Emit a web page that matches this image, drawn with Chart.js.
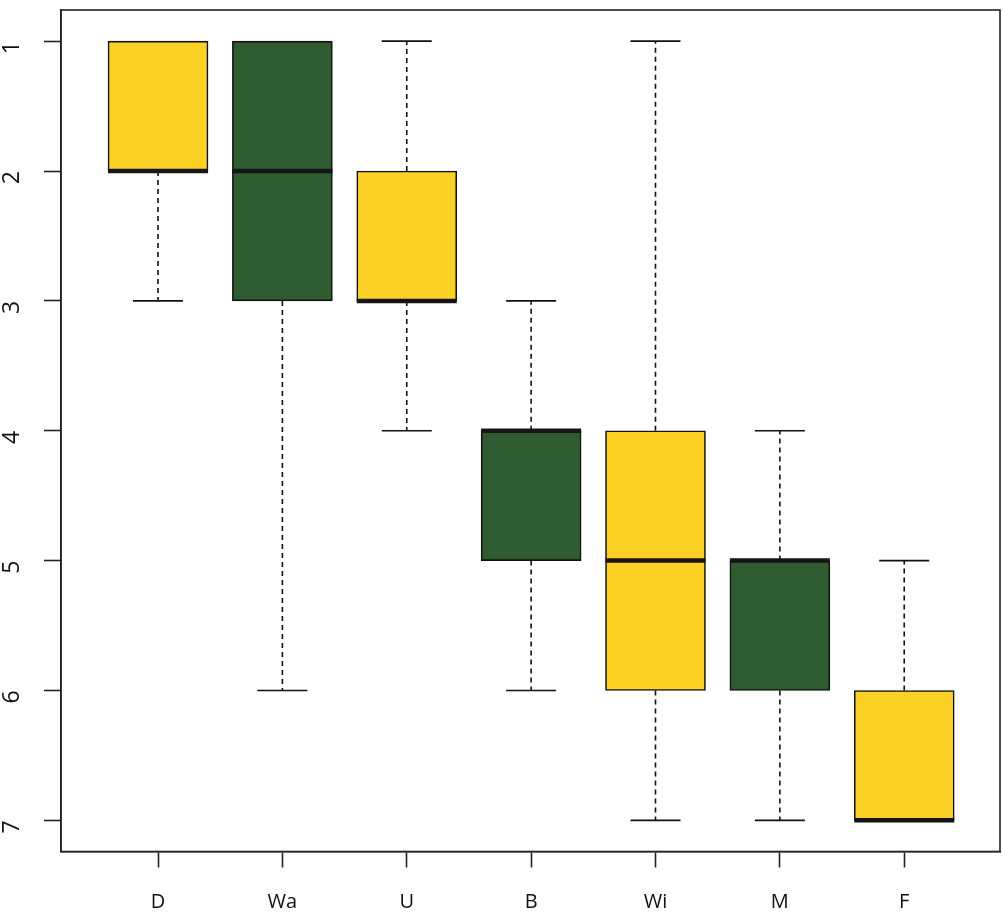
<!DOCTYPE html>
<html>
<head>
<meta charset="utf-8">
<script src="https://cdn.jsdelivr.net/npm/chart.js@4.4.1/dist/chart.umd.min.js"></script>
<style>
  html, body { margin: 0; padding: 0; background: #fff; }
  #wrap { width: 1003px; height: 917px; position: relative; }
</style>
</head>
<body>
<div id="wrap"><canvas id="chart"></canvas></div>
<script>
// box plot summary per group (rank scale, 1 = top)
const categories = ['D', 'Wa', 'U', 'B', 'Wi', 'M', 'F'];
const whiskerTop = [1, 1, 1, 3, 1, 4, 5];
const q1 = [1, 1, 2, 4, 4, 5, 6];
const medians = [2, 2, 3, 4, 5, 5, 7];
const q3 = [2, 3, 3, 5, 6, 6, 7];
const whiskerBottom = [3, 6, 4, 6, 7, 7, 7];
const yTicks = [1, 2, 3, 4, 5, 6, 7];

const YELLOW = '#fbd125';
const GREEN = '#2e5b30';
const boxColors = categories.map((_, i) => i % 2 === 0 ? YELLOW : GREEN);

const boxplotPlugin = {
  id: 'boxplotExtras',
  beforeDatasetsDraw(chart) {
    const { ctx, scales: { x, y } } = chart;
    ctx.save();
    ctx.strokeStyle = '#111';
    ctx.lineWidth = 1.6;
    categories.forEach((c, i) => {
      const px = x.getPixelForValue(i + 1);
      const halfCap = 25;
      [[q1[i], whiskerTop[i]], [q3[i], whiskerBottom[i]]].forEach(([from, to]) => {
        if (from === to) return;
        ctx.setLineDash([5, 4]);
        ctx.beginPath();
        ctx.moveTo(px, y.getPixelForValue(from));
        ctx.lineTo(px, y.getPixelForValue(to));
        ctx.stroke();
        ctx.setLineDash([]);
        ctx.beginPath();
        ctx.moveTo(px - halfCap, y.getPixelForValue(to));
        ctx.lineTo(px + halfCap, y.getPixelForValue(to));
        ctx.stroke();
      });
    });
    ctx.restore();
  },
  afterDatasetsDraw(chart) {
    const { ctx, scales: { x, y }, chartArea } = chart;
    ctx.save();
    ctx.strokeStyle = '#151515';
    ctx.lineWidth = 4.5;
    categories.forEach((c, i) => {
      const px = x.getPixelForValue(i + 1);
      const py = y.getPixelForValue(medians[i]);
      ctx.beginPath();
      ctx.moveTo(px - 50, py);
      ctx.lineTo(px + 50, py);
      ctx.stroke();
    });
    // plot frame
    ctx.lineWidth = 1.6;
    ctx.strokeStyle = '#222';
    ctx.strokeRect(chartArea.left, chartArea.top, chartArea.right - chartArea.left, chartArea.bottom - chartArea.top);
    ctx.restore();
  }
};

new Chart(document.getElementById('chart'), {
  type: 'bar',
  data: {
    datasets: [{
      data: categories.map((c, i) => ({ x: i + 1, y: [q1[i], q3[i]] })),
      backgroundColor: boxColors,
      borderColor: '#111',
      borderWidth: 1.6,
      borderSkipped: false,
      barThickness: 100,
    }]
  },
  options: {
    responsive: true,
    maintainAspectRatio: false,
    animation: false,
    layout: { padding: { top: 10, right: 3, left: 0, bottom: 0 } },
    plugins: { legend: { display: false }, tooltip: { enabled: false } },
    scales: {
      x: {
        type: 'linear',
        offset: false,
        min: 0.22,
        max: 7.77,
        afterBuildTicks: s => { s.ticks = categories.map((c, i) => ({ value: i + 1 })); },
        afterFit: s => { s.height = 65.5; s.paddingLeft = 0; s.paddingRight = 0; },
        ticks: {
          color: '#111',
          font: { family: 'Open Sans', size: 20 },
          padding: 23,
          callback: v => categories[v - 1],
        },
        grid: { offset: false, drawOnChartArea: false, drawTicks: true, tickLength: 16, tickColor: '#222', tickWidth: 1.6 },
        border: { display: true, color: '#222', width: 1.6 },
      },
      y: {
        type: 'linear',
        reverse: true,
        min: 0.76,
        max: 7.24,
        afterBuildTicks: s => { s.ticks = yTicks.map(v => ({ value: v })); },
        afterFit: s => { s.width = 61; s.paddingTop = 0; s.paddingBottom = 0; },
        ticks: {
          color: '#111',
          font: { family: 'Open Sans', size: 23 },
          padding: 32,
          minRotation: 90,
          maxRotation: 90,
        },
        grid: { drawOnChartArea: false, drawTicks: true, tickLength: 17, tickColor: '#222', tickWidth: 1.6 },
        border: { display: true, color: '#222', width: 1.6 },
      }
    }
  },
  plugins: [boxplotPlugin]
});
</script>
</body>
</html>
